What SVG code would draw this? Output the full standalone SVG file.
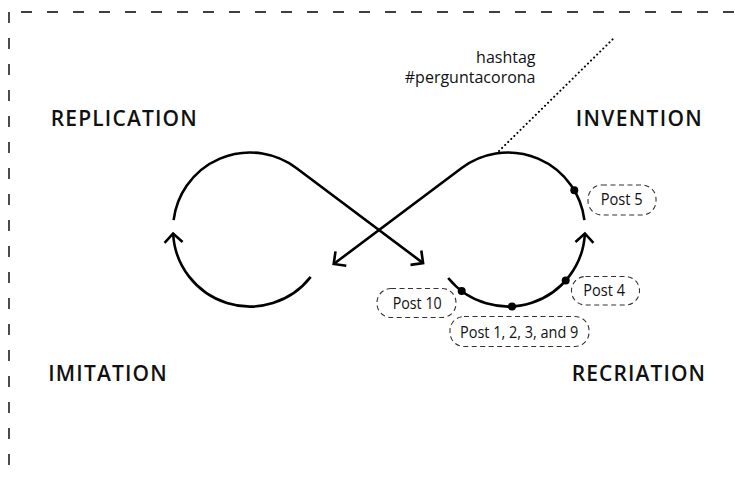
<svg xmlns="http://www.w3.org/2000/svg" width="735" height="479" viewBox="0 0 735 479">
<defs>
<style>
.frame{stroke:#000;stroke-width:1.4;fill:none;stroke-dasharray:11 15}
.loop{stroke:#000;stroke-width:2.6;fill:none;stroke-linecap:butt;stroke-linejoin:round}
.dotted{stroke:#000;stroke-width:2;fill:none;stroke-dasharray:0.1 4.2;stroke-linecap:round}
.box{stroke:#333;stroke-width:1.1;fill:#fff;stroke-dasharray:5 3.5}
.dot{fill:#000}
.big{font-family:"Open Sans","Liberation Sans",sans-serif;font-size:21px;font-weight:600;fill:#111}
.post{font-family:"Open Sans","Liberation Sans",sans-serif;font-size:16px;fill:#111}
.tag{font-family:"Open Sans","Liberation Sans",sans-serif;font-size:16px;fill:#111;text-anchor:end}
</style>
<marker id="arrow" markerUnits="userSpaceOnUse" markerWidth="30" markerHeight="30" refX="0" refY="0" viewBox="-15 -15 30 30" orient="auto" overflow="visible">
<path d="M-9,-9 L0,0 L-9,9" fill="none" stroke="#000" stroke-width="2.6"/>
</marker>
</defs>
<rect width="735" height="479" fill="#fff"/>
<g id="frame">
<line class="frame" x1="9" y1="12" x2="735" y2="12" stroke-dashoffset="-12"/>
<line class="frame" x1="9" y1="12" x2="9" y2="479"/>
</g>
<g id="connectors">
<path class="loop" d="M173.6,220.1 A77,77 0 0 1 296.3,168 L423.1,263.1" marker-end="url(#arrow)"/>
<path class="loop" d="M584.4,220.1 A77,77 0 0 0 461.7,168 L333.7,264" marker-end="url(#arrow)"/>
<path class="loop" d="M310.7,276.9 A77,77 0 0 1 173.1,233.5" marker-end="url(#arrow)"/>
<path class="loop" d="M448.2,278 A77,77 0 0 0 584.9,233.5" marker-end="url(#arrow)"/>
<line class="dotted" x1="499" y1="151" x2="615" y2="37"/>
</g>
<g id="replication"><text class="big" x="50.7" y="125.5" textLength="146" lengthAdjust="spacing">REPLICATION</text></g>
<g id="invention"><text class="big" x="575.7" y="125.5" textLength="126" lengthAdjust="spacing">INVENTION</text></g>
<g id="imitation"><text class="big" x="48.3" y="380.5" textLength="118.4" lengthAdjust="spacing">IMITATION</text></g>
<g id="recriation"><text class="big" x="571.7" y="380.5" textLength="133.3" lengthAdjust="spacing">RECRIATION</text></g>
<g id="hashtag">
<text class="tag" x="535.5" y="63">hashtag</text>
<text class="tag" x="535.5" y="82.5">#perguntacorona</text>
</g>
<g id="post5">
<circle class="dot" cx="574.3" cy="190.3" r="4"/>
<rect class="box" x="588" y="185" width="68" height="30" rx="14"/>
<text class="post" x="600.7" y="205" textLength="42" lengthAdjust="spacingAndGlyphs">Post 5</text>
</g>
<g id="post4">
<circle class="dot" cx="565.7" cy="280.5" r="4"/>
<rect class="box" x="571.5" y="276.5" width="68" height="28.5" rx="14"/>
<text class="post" x="583.3" y="296" textLength="41.7" lengthAdjust="spacingAndGlyphs">Post 4</text>
</g>
<g id="post10">
<circle class="dot" cx="461.7" cy="291" r="4"/>
<rect class="box" x="377" y="288.5" width="79" height="29" rx="14"/>
<text class="post" x="392.7" y="308.5" textLength="49" lengthAdjust="spacingAndGlyphs">Post 10</text>
</g>
<g id="post1239">
<circle class="dot" cx="512" cy="306.4" r="4"/>
<rect class="box" x="450" y="316.5" width="139" height="30" rx="14"/>
<text class="post" x="460" y="337.5" textLength="118.3" lengthAdjust="spacingAndGlyphs">Post 1, 2, 3, and 9</text>
</g>
</svg>
